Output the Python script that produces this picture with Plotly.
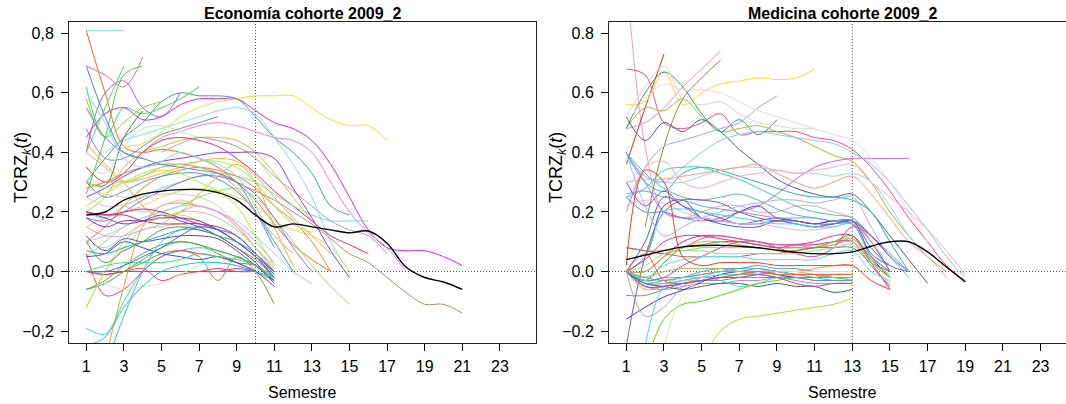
import plotly.graph_objects as go

# ---------------- data ----------------
x_ticks = list(range(1, 24, 2))
y_ticks = [-0.2, 0.0, 0.2, 0.4, 0.6, 0.8]
econ_ytick_labels = ["\u22120,2", "0,0", "0,2", "0,4", "0,6", "0,8"]
med_ytick_labels = ["\u22120.2", "0.0", "0.2", "0.4", "0.6", "0.8"]

econ_title = "Economía cohorte 2009_2"
med_title = "Medicina cohorte 2009_2"
x_title = "Semestre"
y_title = "TCRZ<sub><i>k</i></sub>(<i>t</i>)"
econ_cut = 10
med_cut = 13

econ_starts = [1, 1, 1, 1, 1, 3, 1, 2, 4, 1, 1, 1, 1, 1, 1, 1, 1, 1, 1, 5,
               1, 1, 1, 1, 1, 1, 1, 1, 1, 1, 1, 1, 1, 1, 1, 3, 1, 1, 2, 2,
               1, 1, 1, 1, 1, 1, 1, 1, 1, 1, 1, 1, 1, 1, 1, 1, 1, 1, 1, 1,
               1, 1, 1, 1]
econ_values = [
    [0.81, 0.81, 0.81],
    [0.81, 0.60, 0.42, 0.40, 0.41, 0.40, 0.38, 0.35, 0.30, 0.24, 0.16, 0.09, 0.04, 0.0],
    [0.69, 0.66, 0.62, 0.72],
    [0.40, 0.60, 0.64, 0.55, 0.52, 0.60],
    [0.45, 0.53, 0.55, 0.51, 0.52, 0.56, 0.58, 0.58, 0.58, 0.54, 0.50, 0.48, 0.44, 0.36, 0.25, 0.14, 0.08, 0.07, 0.07, 0.05, 0.02],
    [0.42, 0.43, 0.47, 0.52, 0.55, 0.57, 0.58, 0.59, 0.59, 0.59, 0.55, 0.51, 0.49, 0.49, 0.44],
    [0.30, 0.38, 0.45, 0.50, 0.57, 0.60, 0.59, 0.59, 0.58, 0.52, 0.45, 0.40, 0.33, 0.22, 0.19],
    [0.40, 0.44, 0.46, 0.48, 0.50, 0.52, 0.54, 0.55, 0.53, 0.45, 0.36, 0.25, 0.10, 0.0],
    [0.40, 0.45, 0.47, 0.49, 0.50, 0.49, 0.47, 0.45, 0.44, 0.40, 0.30, 0.20, 0.13, 0.08, 0.0],
    [0.62, 0.45, 0.55, 0.53, 0.55, 0.58, 0.62],
    [0.26, 0.45, 0.66, 0.69],
    [0.69, 0.52, 0.40, 0.38],
    [0.30, 0.29, 0.45, 0.54],
    [0.40, 0.55, 0.69],
    [0.58, 0.45, 0.50, 0.55, 0.57],
    [0.48, 0.38, 0.38, 0.42, 0.46, 0.48, 0.50, 0.52],
    [0.35, 0.33, 0.42, 0.48, 0.49, 0.47, 0.45, 0.44, 0.42, 0.38, 0.30],
    [0.20, 0.25, 0.35, 0.40, 0.42, 0.44, 0.45, 0.45, 0.44, 0.40, 0.33, 0.25, 0.17],
    [0.35, 0.30, 0.33, 0.40, 0.44, 0.45, 0.44, 0.42, 0.38, 0.33, 0.27, 0.22, 0.17, 0.12, 0.09, 0.06],
    [0.40, 0.43, 0.45, 0.44, 0.42, 0.38, 0.32, 0.27, 0.22, 0.17, 0.14, 0.12, 0.06],
    [0.28, 0.30, 0.33, 0.35, 0.36, 0.36, 0.35, 0.33, 0.30, 0.27, 0.24, 0.20, 0.16, 0.11, 0.06, 0.03, -0.02, -0.07, -0.11, -0.11, -0.14],
    [0.20, 0.18, 0.22, 0.25, 0.28, 0.30, 0.32, 0.33, 0.32, 0.30, 0.26, 0.22, 0.19, 0.17, 0.17, 0.17],
    [0.05, 0.10, 0.15, 0.18, 0.20, 0.22, 0.25, 0.27, 0.28, 0.25, 0.18, 0.10, 0.02, -0.05, -0.11],
    [0.25, 0.28, 0.32, 0.35, 0.37, 0.38, 0.39, 0.40, 0.40, 0.40, 0.38, 0.28, 0.18, 0.07, -0.02],
    [0.10, 0.12, 0.15, 0.18, 0.20, 0.22, 0.22, 0.20, 0.17, 0.12, 0.06, 0.0, -0.04],
    [0.15, 0.18, 0.20, 0.22, 0.25, 0.27, 0.28, 0.27, 0.25, 0.22, 0.17, 0.14, 0.12, 0.08, 0.0],
    [0.10, 0.15, 0.22, 0.28, 0.32, 0.34, 0.35, 0.34, 0.32, 0.28, 0.22, 0.17, 0.10, 0.0],
    [0.30, 0.25, 0.27, 0.30, 0.32, 0.33, 0.33, 0.31, 0.27, 0.20, 0.10, 0.0],
    [0.40, 0.35, 0.30, 0.32, 0.35, 0.36, 0.35, 0.33, 0.28, 0.20, 0.12, 0.06],
    [0.18, 0.17, 0.20, 0.24, 0.27, 0.30, 0.32, 0.32, 0.30, 0.26, 0.18, 0.08, 0.0],
    [0.22, 0.26, 0.30, 0.33, 0.35, 0.36, 0.37, 0.37, 0.35, 0.30, 0.22, 0.16, 0.13],
    [0.28, 0.30, 0.30, 0.31, 0.33, 0.35, 0.37, 0.38, 0.37, 0.32, 0.25, 0.18, 0.12, 0.06],
    [0.0, 0.0, 0.0, 0.0, 0.0, 0.0, 0.0, 0.0, 0.0, 0.005],
    [0.0, -0.01, 0.0, 0.0, 0.0, 0.0, 0.0, 0.0, 0.01, 0.0],
    [0.0, -0.01, 0.0, 0.01, -0.03, -0.01, 0.0, 0.01, 0.0, 0.0],
    [0.0, 0.03, 0.06, 0.07, 0.05, -0.03, 0.05, 0.0, -0.11],
    [-0.06, -0.03, 0.02, 0.06, 0.09, 0.10, 0.09, 0.06, 0.03, 0.0, -0.03],
    [-0.19, -0.21, -0.10, 0.0, 0.05, 0.07, 0.08, 0.07, 0.05, 0.02, -0.02],
    [-0.32, -0.15, 0.0, 0.10, 0.14, 0.15, 0.14, 0.10, 0.05, -0.02],
    [-0.30, -0.05, 0.15, 0.22, 0.23, 0.22, 0.20, 0.15, 0.08, 0.0],
    [0.06, -0.08, -0.06, 0.0, 0.05, 0.07, 0.06, 0.05, 0.03, 0.02, -0.02],
    [-0.06, -0.04, 0.0, 0.04, 0.08, 0.10, 0.09, 0.07, 0.05, 0.02, -0.04],
    [-0.12, 0.0, 0.08, 0.14, 0.15, 0.16, 0.14, 0.12, 0.08, 0.03, -0.03],
    [0.0, -0.04, -0.06, -0.05, -0.04, -0.01, 0.02, 0.03, 0.02, 0.01, -0.01],
    [0.05, 0.06, 0.10, 0.08, 0.06, 0.05, 0.04, 0.05, 0.03, 0.0, -0.05],
    [0.12, 0.07, 0.11, 0.10, 0.11, 0.12, 0.12, 0.11, 0.07, 0.02, -0.03],
    [0.20, 0.18, 0.16, 0.17, 0.19, 0.17, 0.15, 0.12, 0.08, 0.03, -0.04],
    [0.0, 0.02, 0.03, 0.03, 0.03, 0.04, 0.06, 0.05, 0.04, 0.02, -0.02],
    [0.20, 0.19, 0.19, 0.17, 0.16, 0.16, 0.16, 0.14, 0.10, 0.05, 0.0],
    [-0.12, 0.0, 0.10, 0.16, 0.18, 0.19, 0.17, 0.14, 0.10, 0.05, -0.01],
    [0.25, 0.22, 0.22, 0.20, 0.22, 0.24, 0.22, 0.20, 0.15, 0.08, 0.02],
    [0.28, 0.26, 0.25, 0.25, 0.26, 0.26, 0.25, 0.22, 0.16, 0.08, 0.0],
    [0.15, 0.12, 0.12, 0.14, 0.16, 0.20, 0.22, 0.20, 0.16, 0.10, 0.03],
    [0.43, 0.36, 0.30, 0.22, 0.18, 0.20, 0.26, 0.32, 0.36, 0.30, 0.15, 0.02],
    [0.30, 0.28, 0.30, 0.32, 0.34, 0.33, 0.30, 0.27, 0.22, 0.12, 0.02],
    [0.55, 0.45, 0.40, 0.38, 0.36, 0.35, 0.34, 0.33, 0.30, 0.20, 0.08],
    [0.60, 0.50, 0.38, 0.35, 0.37, 0.40, 0.38, 0.36, 0.32, 0.22, 0.10],
    [0.20, 0.19, 0.20, 0.21, 0.20, 0.18, 0.16, 0.15, 0.12, 0.06, 0.0],
    [0.18, 0.15, 0.17, 0.17, 0.18, 0.18, 0.17, 0.14, 0.10, 0.05, -0.02],
    [0.07, 0.06, 0.08, 0.10, 0.12, 0.14, 0.14, 0.12, 0.10, 0.06, 0.0],
    [0.10, 0.03, 0.07, 0.10, 0.14, 0.15, 0.14, 0.12, 0.08, 0.04, -0.02],
    [0.10, 0.08, 0.12, 0.16, 0.18, 0.20, 0.20, 0.18, 0.14, 0.08, 0.01],
    [0.0, 0.0, 0.02, 0.05, 0.08, 0.12, 0.15, 0.14, 0.12, 0.06, -0.01],
    [-0.25, -0.22, -0.12, -0.05, 0.0, 0.02, 0.03, 0.03, 0.02, 0.0, -0.02],
]
econ_colors = [
    "#7FE0EE", "#F06A1A", "#E8708A", "#A060F0", "#E020E0", "#EEE030", "#40A0A0", "#90D8F0",
    "#E880E8", "#40DD40", "#50C850", "#5080E0", "#507040", "#60D060", "#90D040", "#7090B0",
    "#D0E8B0", "#C8C040", "#E03060", "#A8A8A8", "#A89070", "#70E0C0", "#98E070", "#8040E0",
    "#B0C8EC", "#D0E850", "#F08828", "#5090E0", "#F0A080", "#9070E0", "#A0F060", "#F0B050",
    "#4466EE", "#E030A0", "#F04050", "#909040", "#70A040", "#40D8B0", "#30C0E0", "#E8A020",
    "#F04080", "#40B050", "#A8E888", "#E0E0C0", "#3050E0", "#5050A8", "#7A38E8", "#30E080",
    "#C03050", "#C8E030", "#F0B8C8", "#E0C8A8", "#C8A0F0", "#F0B020", "#B0F040", "#6090C0",
    "#80E0E0", "#D02090", "#8030D0", "#20B0C0", "#609060", "#B0D0A0", "#4070F0", "#20C0D0",
]
econ_mean = [0.19, 0.20, 0.24, 0.26, 0.27, 0.275, 0.275, 0.265, 0.24, 0.19, 0.15, 0.16,
             0.15, 0.14, 0.13, 0.136, 0.095, 0.015, -0.02, -0.035, -0.06]

med_starts = [1, 1, 1, 1, 1, 2, 1, 1, 1, 1, 1, 1, 1, 1, 1, 1, 1, 1, 1, 1,
              1, 1, 1, 1, 1, 1, 1, 1, 1, 1, 1, 1, 1, 1, 1, 1, 1, 1, 1, 1,
              1, 1, 1, 1, 1, 1, 1, 1, 1, 1, 1, 2, 5, 3, 2, 1, 1, 1, 1]
med_values = [
    [1.0, 0.42, 0.20, 0.18, 0.20, 0.22, 0.22, 0.20, 0.20, 0.22, 0.22, 0.20, 0.18, 0.10, 0.0],
    [0.36, 0.55, 0.73],
    [0.68, 0.66, 0.50, 0.48, 0.50, 0.53, 0.46, 0.47, 0.47, 0.47, 0.45, 0.44, 0.41, 0.35, 0.27, 0.18, 0.10, 0.02, -0.03],
    [0.56, 0.57, 0.67, 0.56, 0.60, 0.63, 0.64, 0.65, 0.645, 0.65, 0.68],
    [0.48, 0.60, 0.67, 0.62, 0.53, 0.47, 0.51, 0.46, 0.51],
    [0.15, 0.42, 0.58, 0.65, 0.71],
    [0.48, 0.50, 0.55, 0.62, 0.68, 0.74],
    [0.48, 0.55, 0.54, 0.58, 0.52, 0.47, 0.48, 0.49, 0.47, 0.45, 0.42, 0.39, 0.37, 0.30, 0.20, 0.12, 0.05, 0.0],
    [0.52, 0.44, 0.50, 0.47, 0.51, 0.47, 0.41, 0.36, 0.31, 0.28, 0.26, 0.25, 0.26, 0.20, 0.12, 0.04, -0.04],
    [0.40, 0.30, 0.20, 0.18, 0.17, 0.18, 0.20, 0.22, 0.26, 0.31, 0.35, 0.37, 0.38, 0.38, 0.38, 0.38],
    [0.40, 0.32, 0.30, 0.35, 0.40, 0.44, 0.46, 0.47, 0.46, 0.45, 0.44, 0.43, 0.40, 0.36, 0.30, 0.22, 0.14, 0.05, -0.02],
    [0.20, 0.35, 0.42, 0.44, 0.46, 0.48, 0.50, 0.55, 0.59],
    [0.50, 0.58, 0.63, 0.61, 0.61, 0.60, 0.57, 0.54, 0.52, 0.50, 0.48, 0.46, 0.44, 0.38, 0.30, 0.20, 0.10],
    [0.52, 0.62, 0.69, 0.58, 0.56, 0.57, 0.53, 0.50, 0.49, 0.48, 0.48],
    [0.40, 0.30, 0.27, 0.33, 0.35, 0.34, 0.32, 0.30, 0.28, 0.26, 0.25, 0.25, 0.24, 0.20, 0.10, 0.0],
    [0.38, 0.32, 0.30, 0.30, 0.32, 0.34, 0.35, 0.35, 0.34, 0.33, 0.33, 0.32, 0.33, 0.30, 0.22, 0.12, 0.05],
    [0.25, 0.28, 0.34, 0.35, 0.35, 0.33, 0.31, 0.28, 0.25, 0.22, 0.20, 0.19, 0.18, 0.12, 0.05, -0.02],
    [0.30, 0.31, 0.31, 0.32, 0.33, 0.34, 0.35, 0.36, 0.33, 0.30, 0.28, 0.30, 0.32, 0.26, 0.18, 0.10, 0.05, -0.02],
    [0.20, 0.35, 0.37, 0.30, 0.28, 0.30, 0.32, 0.33, 0.34, 0.33, 0.34, 0.35, 0.36, 0.30, 0.25, 0.20, 0.14, 0.07, -0.01],
    [0.40, 0.33, 0.28, 0.25, 0.24, 0.25, 0.26, 0.24, 0.21, 0.19, 0.18, 0.17, 0.17, 0.10, 0.0],
    [0.30, 0.22, 0.27, 0.22, 0.20, 0.18, 0.16, 0.17, 0.18, 0.17, 0.16, 0.17, 0.17, 0.08, 0.02, 0.0],
    [0.0, 0.10, 0.25, 0.22, 0.18, 0.16, 0.15, 0.15, 0.17, 0.16, 0.15, 0.16, 0.17, 0.06, 0.02],
    [0.25, 0.20, 0.20, 0.18, 0.18, 0.17, 0.16, 0.16, 0.17, 0.16, 0.15, 0.16, 0.16, 0.10, 0.0],
    [0.0, 0.05, 0.22, 0.24, 0.18, 0.17, 0.20, 0.22, 0.18, 0.17, 0.16, 0.17, 0.16, 0.05, -0.02],
    [0.22, 0.24, 0.23, 0.20, 0.18, 0.17, 0.16, 0.16, 0.15, 0.14, 0.14, 0.15, 0.16, 0.10, 0.02],
    [0.26, 0.27, 0.25, 0.24, 0.22, 0.21, 0.20, 0.19, 0.18, 0.18, 0.18, 0.17, 0.17, 0.12, 0.06, 0.0],
    [-0.25, 0.05, 0.20, 0.24, 0.24, 0.23, 0.20, 0.18, 0.17, 0.17, 0.16, 0.16, 0.17, 0.12, 0.05, 0.0],
    [0.0, 0.05, 0.20, 0.21, 0.20, 0.19, 0.18, 0.17, 0.16, 0.16, 0.15, 0.15, 0.16, 0.05, 0.0],
    [0.0, 0.0, 0.05, 0.10, 0.12, 0.12, 0.11, 0.10, 0.09, 0.09, 0.09, 0.10, 0.10, 0.02, -0.05],
    [0.0, -0.03, 0.03, 0.08, 0.09, 0.10, 0.10, 0.09, 0.08, 0.08, 0.08, 0.10, 0.12, 0.04, -0.02],
    [0.08, 0.07, 0.06, 0.08, 0.11, 0.12, 0.11, 0.10, 0.09, 0.09, 0.08, 0.09, 0.11, 0.05, 0.0],
    [0.08, 0.07, 0.07, 0.07, 0.08, 0.08, 0.08, 0.08, 0.07, 0.07, 0.08, 0.09, 0.10, 0.02, -0.04],
    [0.0, 0.04, 0.10, 0.12, 0.12, 0.11, 0.10, 0.09, 0.08, 0.09, 0.10, 0.12, 0.12, 0.03, -0.06],
    [0.0, 0.0, 0.05, 0.08, 0.10, 0.10, 0.09, 0.08, 0.07, 0.07, 0.08, 0.10, 0.11, 0.03, -0.02],
    [0.0, -0.03, -0.02, 0.02, 0.05, 0.08, 0.10, 0.10, 0.08, 0.06, 0.05, 0.08, 0.15, 0.12, 0.05],
    [0.08, 0.07, 0.06, 0.05, 0.05, 0.05, 0.05, 0.06, 0.06, 0.07, 0.08, 0.08, 0.08, 0.03, 0.0],
    [0.0, 0.02, 0.06, 0.07, 0.07, 0.06, 0.06, 0.06, 0.06, 0.06, 0.07, 0.08, 0.09, 0.03, -0.01],
    [0.0, -0.02, 0.02, 0.04, 0.05, 0.05, 0.05, 0.04, 0.04, 0.04, 0.04, 0.06, 0.07, 0.0, -0.03],
    [0.0, -0.04, -0.04, -0.03, -0.02, -0.02, -0.01, -0.01, 0.0, 0.0, -0.01, -0.01, -0.01],
    [0.0, -0.05, -0.05, -0.04, -0.03, -0.02, -0.01, 0.0, 0.0, -0.01, -0.01, -0.02, -0.02],
    [0.0, -0.03, -0.02, -0.02, -0.01, 0.0, 0.01, 0.01, 0.0, -0.01, -0.02, -0.03, -0.03],
    [0.0, -0.05, -0.06, -0.05, -0.04, -0.04, -0.03, -0.03, -0.02, -0.03, -0.04, -0.04, -0.04],
    [0.0, -0.04, -0.03, -0.02, 0.0, 0.01, 0.01, 0.02, 0.01, 0.01, 0.0, 0.0, 0.0],
    [0.0, -0.02, 0.0, 0.01, 0.01, 0.01, 0.0, -0.01, -0.02, -0.02, -0.02, -0.01, -0.01],
    [0.0, -0.04, -0.05, -0.06, -0.05, -0.04, -0.04, -0.05, -0.04, -0.05, -0.05, -0.07, -0.06],
    [0.0, -0.06, -0.05, -0.03, -0.03, -0.02, -0.02, -0.01, 0.0, 0.0, 0.01, 0.02, 0.02],
    [0.0, -0.03, -0.04, -0.03, -0.02, -0.03, -0.05, -0.04, -0.02, -0.02, -0.03, -0.03, -0.03],
    [0.0, -0.02, -0.03, -0.02, -0.01, 0.0, 0.0, 0.01, 0.0, -0.01, -0.01, -0.02, -0.02],
    [-0.08, -0.08, -0.06, -0.04, -0.03, -0.03, -0.02, -0.02, -0.02, -0.02, -0.03, -0.03, -0.03],
    [-0.16, -0.12, -0.085, -0.063, -0.035, -0.01, 0.0, 0.0, -0.01, -0.02, -0.02, -0.02, -0.02],
    [0.0, -0.15, -0.12, -0.05, -0.02, 0.0, 0.0, 0.0, 0.0, -0.01, -0.01, -0.01, -0.01],
    [-0.32, -0.16, -0.11, -0.10, -0.08, -0.06, -0.04, -0.03, -0.02, -0.02, -0.02, -0.03],
    [-0.30, -0.20, -0.16, -0.15, -0.14, -0.13, -0.12, -0.11, -0.09],
    [-0.25, -0.08, -0.03, -0.02, -0.01, 0.0, 0.0, 0.0, 0.0, 0.0, 0.0],
    [-0.25, -0.05, -0.02, -0.02, -0.01, -0.01, 0.0, 0.0, -0.01, -0.01, -0.02, -0.02],
    [0.0, 0.06, -0.03, -0.04, -0.03, -0.02, -0.01, 0.0, -0.01, -0.01, -0.01, -0.01, -0.01],
    [0.0, -0.05, -0.05, -0.04, -0.03, -0.02, -0.02, -0.01, -0.02, -0.04, -0.05, -0.04, -0.04],
    [0.40, 0.22, 0.12, 0.15, 0.18, 0.20, 0.22, 0.23, 0.24, 0.24, 0.23, 0.24, 0.25, 0.15, 0.05, 0.0],
    [0.02, 0.34, 0.30, 0.05, 0.02, 0.03, 0.03, 0.03, 0.02, 0.02, 0.02, 0.02, 0.02, -0.03, -0.06],
]
med_colors = [
    "#F0A0B8", "#D83020", "#E85078", "#F0E020", "#30A068", "#8A8A40", "#D890F0", "#A0B848",
    "#4060A0", "#B868F0", "#90C4F0", "#A0A8D8", "#F0D0F0", "#E0D4C8", "#30B0A0", "#A0D0F0",
    "#40D0A0", "#F0A090", "#F0B0C0", "#60B0D0", "#8050E0", "#4060F0", "#6080C0", "#5040D0",
    "#E8B8C8", "#70A0F0", "#8858A8", "#40D8E8", "#E020A0", "#40A040", "#F060A0", "#C0C060",
    "#F03080", "#B0C040", "#E040A0", "#A07060", "#90E090", "#60E0E0", "#A0A0A0", "#8080E0",
    "#40C0C0", "#C080E0", "#60A0C0", "#A0C060", "#307050", "#F0A040", "#40E0F0", "#9090B0",
    "#7090A0", "#5030E0", "#C0A0B0", "#60D010", "#B8E028", "#E0E8A0", "#40E0D0", "#F06020",
    "#A040E0", "#B0B0F0", "#F04020",
]
med_mean = [0.04, 0.055, 0.07, 0.083, 0.087, 0.088, 0.085, 0.08, 0.072, 0.065, 0.06, 0.06,
            0.066, 0.085, 0.10, 0.10, 0.066, 0.015, -0.035]

# ---------------- figure ----------------
W, H = 1066, 404
FONT = "Liberation Sans, Arial, Helvetica, sans-serif"

fig = go.Figure()


def add_panel(starts, values, colors, mean, xa, ya):
    for s, vals, c in zip(starts, values, colors):
        fig.add_trace(go.Scatter(
            x=list(range(s, s + len(vals))), y=vals, mode="lines",
            line=dict(color=c, width=1, shape="spline", smoothing=1.0),
            xaxis=xa, yaxis=ya, showlegend=False, hoverinfo="skip"))
    fig.add_trace(go.Scatter(
        x=list(range(1, 1 + len(mean))), y=mean, mode="lines",
        line=dict(color="black", width=1.4, shape="spline", smoothing=1.0),
        xaxis=xa, yaxis=ya, showlegend=False, hoverinfo="skip"))


add_panel(econ_starts, econ_values, econ_colors, econ_mean, "x", "y")
add_panel(med_starts, med_values, med_colors, med_mean, "x2", "y2")

ydom = [61 / H, 382 / H]
left_dom = [69 / W, 536 / W]
right_dom = [609 / W, 1.0]

xcommon = dict(tickvals=x_ticks, ticktext=[str(v) for v in x_ticks], ticks="outside",
               ticklen=7, tickwidth=1, tickcolor="black", showgrid=False, zeroline=False,
               showline=True, linecolor="#222", linewidth=1,
               tickfont=dict(family=FONT, size=16, color="black"), ticklabelstandoff=2)
ycommon = dict(tickvals=y_ticks, ticks="outside", ticklen=7, tickwidth=1, tickcolor="black",
               showgrid=False, zeroline=False, showline=True, linecolor="#222", linewidth=1,
               range=[-0.24, 0.838], tickfont=dict(family=FONT, size=16, color="black"),
               ticklabelstandoff=4)

fig.update_layout(
    width=W, height=H, autosize=False,
    margin=dict(l=0, r=0, t=0, b=0),
    paper_bgcolor="white", plot_bgcolor="white",
    xaxis=dict(domain=left_dom, range=[0.08, 24.92], anchor="y", mirror=True, **xcommon),
    yaxis=dict(domain=ydom, anchor="x", ticktext=econ_ytick_labels, mirror=True, **ycommon),
    xaxis2=dict(domain=right_dom, range=[0.08, 24.35], anchor="y2", mirror=True, **xcommon),
    yaxis2=dict(domain=ydom, anchor="x2", ticktext=med_ytick_labels, mirror=False, **ycommon),
)

# reference lines (dotted)
dot = dict(color="#555", width=1, dash="1px,2px")
fig.add_shape(type="line", xref="x", yref="y domain", x0=econ_cut, x1=econ_cut, y0=0, y1=1,
              line=dot, layer="below")
fig.add_shape(type="line", xref="x domain", yref="y", x0=0, x1=1, y0=0, y1=0,
              line=dot, layer="below")
fig.add_shape(type="line", xref="x2", yref="y2 domain", x0=med_cut, x1=med_cut, y0=0, y1=1,
              line=dot, layer="below")
fig.add_shape(type="line", xref="x2 domain", yref="y2", x0=0, x1=1, y0=0, y1=0,
              line=dot, layer="below")

# titles and axis labels
left_cx = (69 + 536) / 2 / W
right_cx = (609 + 1076) / 2 / W
for cx, title in ((left_cx, econ_title), (right_cx, med_title)):
    fig.add_annotation(text="<b>" + title + "</b>", xref="paper", yref="paper",
                       x=cx, y=(H - 13) / H, showarrow=False,
                       xanchor="center", yanchor="middle",
                       font=dict(family=FONT, size=16, color="black"))
    fig.add_annotation(text=x_title, xref="paper", yref="paper", x=cx, y=12 / H,
                       showarrow=False, xanchor="center", yanchor="middle",
                       font=dict(family=FONT, size=16, color="black"))
for px in (22, 557):
    fig.add_annotation(text=y_title, xref="paper", yref="paper", x=px / W, y=(H - 168) / H,
                       showarrow=False, xanchor="center", yanchor="middle", textangle=-90,
                       font=dict(family=FONT, size=18, color="black"))

fig.write_html("out.html")
